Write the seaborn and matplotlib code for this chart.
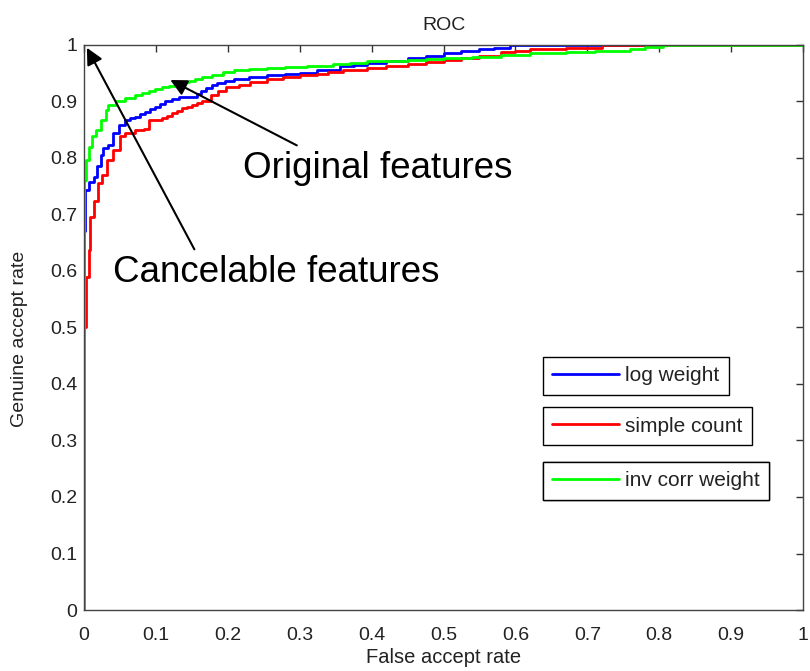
import matplotlib
matplotlib.use("Agg")
import matplotlib.pyplot as plt
import seaborn as sns
import pandas as pd

sns.set_style("white")
plt.rcParams['font.family'] = ['Liberation Sans', 'DejaVu Sans']

# data
log_x = [0, 0, 0.002, 0.0065, 0.0135, 0.018, 0.023, 0.027, 0.034, 0.041, 0.048, 0.057, 0.064, 0.071,
         0.078, 0.085, 0.092, 0.099, 0.106, 0.113, 0.122, 0.132, 0.146, 0.157, 0.163, 0.169, 0.178,
         0.185, 0.196, 0.208, 0.23, 0.254, 0.28, 0.30, 0.324, 0.356, 0.375, 0.393, 0.42, 0.45,
         0.475, 0.5, 0.525, 0.55, 0.57, 0.592, 1.0]
log_y = [0, 0.67, 0.743, 0.758, 0.767, 0.785, 0.805, 0.817, 0.823, 0.844, 0.858, 0.867, 0.870, 0.873,
         0.877, 0.882, 0.886, 0.891, 0.895, 0.9, 0.904, 0.908, 0.908, 0.914, 0.918, 0.923, 0.929,
         0.932, 0.936, 0.939, 0.943, 0.947, 0.949, 0.951, 0.956, 0.962, 0.965, 0.968, 0.972, 0.977,
         0.981, 0.986, 0.989, 0.992, 0.995, 1.0, 1.0]
cnt_x = [0, 0, 0.002, 0.003, 0.0065, 0.009, 0.0135, 0.02, 0.025, 0.032, 0.041, 0.05, 0.057, 0.071,
         0.083, 0.09, 0.108, 0.115, 0.122, 0.129, 0.136, 0.143, 0.15, 0.157, 0.164, 0.176, 0.187,
         0.198, 0.215, 0.231, 0.255, 0.277, 0.30, 0.324, 0.34, 0.36, 0.393, 0.42, 0.45, 0.475,
         0.5, 0.525, 0.55, 0.58, 0.60, 0.62, 0.67, 0.72, 1.0]
cnt_y = [0, 0.50, 0.501, 0.59, 0.637, 0.696, 0.723, 0.755, 0.77, 0.796, 0.814, 0.838, 0.844, 0.85,
         0.852, 0.867, 0.87, 0.874, 0.879, 0.883, 0.888, 0.891, 0.894, 0.897, 0.9, 0.912, 0.919,
         0.926, 0.93, 0.935, 0.939, 0.943, 0.946, 0.949, 0.952, 0.956, 0.96, 0.963, 0.967, 0.97,
         0.974, 0.977, 0.981, 0.987, 0.99, 0.993, 0.995, 1.0, 1.0]
inv_x = [0, 0, 0.001, 0.003, 0.0065, 0.011, 0.016, 0.023, 0.03, 0.034, 0.044, 0.057, 0.071, 0.08,
         0.09, 0.099, 0.108, 0.118, 0.127, 0.136, 0.146, 0.155, 0.164, 0.178, 0.193, 0.208, 0.23,
         0.254, 0.28, 0.31, 0.346, 0.37, 0.393, 0.42, 0.45, 0.475, 0.5, 0.54, 0.58, 0.62, 0.67,
         0.71, 0.76, 0.78, 0.805, 1.0]
inv_y = [0, 0.76, 0.761, 0.796, 0.82, 0.838, 0.85, 0.867, 0.885, 0.894, 0.9, 0.906, 0.912, 0.915,
         0.919, 0.922, 0.926, 0.928, 0.931, 0.934, 0.937, 0.94, 0.943, 0.947, 0.952, 0.956, 0.957,
         0.959, 0.961, 0.963, 0.966, 0.968, 0.971, 0.972, 0.974, 0.976, 0.977, 0.979, 0.982, 0.985,
         0.988, 0.99, 0.993, 0.996, 1.0, 1.0]
series_names = ["log weight", "simple count", "inv corr weight"]
colors = ["#0000ff", "#ff0000", "#00ff00"]
ticks = [0, 0.1, 0.2, 0.3, 0.4, 0.5, 0.6, 0.7, 0.8, 0.9, 1]
tick_labels = ["0", "0.1", "0.2", "0.3", "0.4", "0.5", "0.6", "0.7", "0.8", "0.9", "1"]

fig = plt.figure(figsize=(8.1, 6.71), dpi=100)
ax = fig.add_axes([0.1037, 0.0909, 0.8877, 0.8421])

lines = []
for (xs, ys), name, c in zip([(log_x, log_y), (cnt_x, cnt_y), (inv_x, inv_y)], series_names, colors):
    df = pd.DataFrame({"x": xs, "y": ys})
    sns.lineplot(data=df, x="x", y="y", ax=ax, color=c, linewidth=2, estimator=None,
                 sort=False, drawstyle="steps-post", legend=False)
    lines.append(ax.get_lines()[-1])

ax.set_xlim(0, 1)
ax.set_ylim(0, 1)
ax.set_xticks(ticks)
ax.set_xticklabels(tick_labels)
ax.set_yticks(ticks)
ax.set_yticklabels(tick_labels)
ax.tick_params(direction="in", length=5, width=1, top=True, right=True, labelsize=14,
               color="#333333", labelcolor="#222222", pad=5)
ax.tick_params(axis="x", pad=12)
for s in ax.spines.values():
    s.set_color("#444444")
    s.set_linewidth(1)
ax.set_xlabel("False accept rate", fontsize=14.5, labelpad=3, color="#222222")
ax.set_ylabel("Genuine accept rate", fontsize=14, color="#222222")
ax.yaxis.set_label_coords(-0.078, 0.48)
ax.set_title("ROC", fontsize=14, pad=11, color="#222222")

tops = [0.448, 0.359, 0.262]
for ln, name, t in zip(lines, series_names, tops):
    leg = ax.legend([ln], [name], loc="upper left", bbox_to_anchor=(0.638, t), borderaxespad=0,
                    fontsize=15, handlelength=3.2, fancybox=False, framealpha=1,
                    edgecolor="black", borderpad=0.45, handletextpad=0.3, labelcolor="#222222")
    leg.get_frame().set_linewidth(1)
    ax.add_artist(leg)

ax.annotate("Original features", xy=(0.12, 0.938), xytext=(0.221, 0.782), fontsize=26.5,
            va="center", ha="left", color="black",
            arrowprops=dict(arrowstyle="-|>", color="black", lw=1.5, mutation_scale=25,
                            shrinkA=0, shrinkB=0, relpos=(0.2, 1.15)))
ax.annotate("Cancelable features", xy=(0.004, 0.995), xytext=(0.04, 0.598), fontsize=26.5,
            va="center", ha="left", color="black",
            arrowprops=dict(arrowstyle="-|>", color="black", lw=1.5, mutation_scale=25,
                            shrinkA=0, shrinkB=0, relpos=(0.25, 1.15)))

fig.savefig("out.png", dpi=100)
